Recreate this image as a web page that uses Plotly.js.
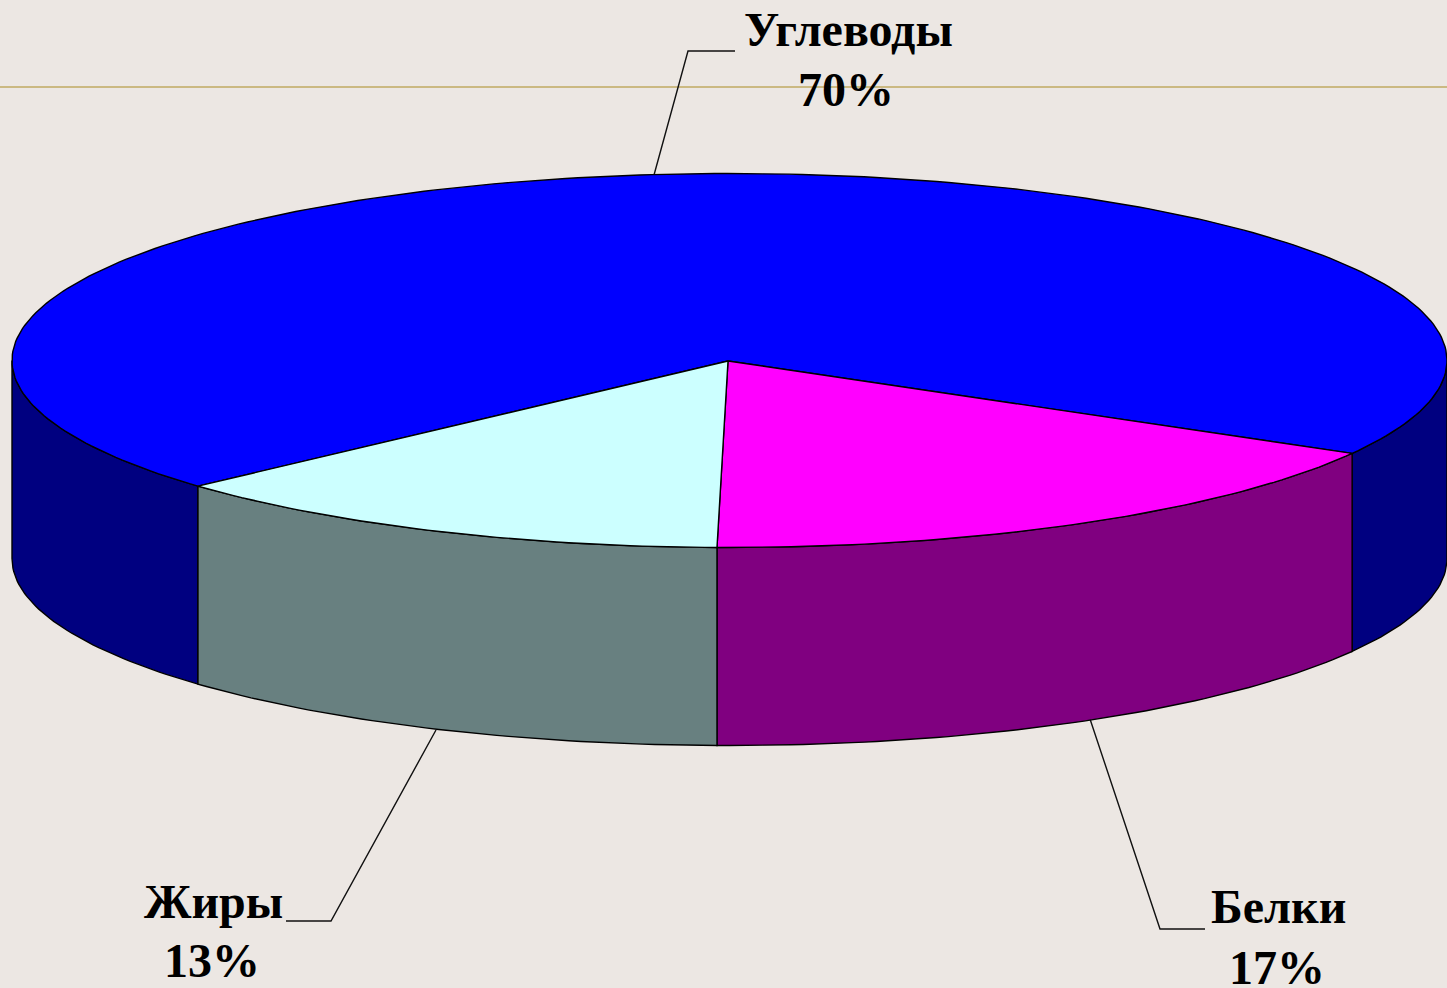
<!DOCTYPE html>
<html>
<head>
<meta charset="utf-8">
<script src="https://cdn.plot.ly/plotly-3.0.1.min.js"></script>
<style>html,body{margin:0;padding:0;background:#ece7e3;overflow:hidden}</style>
</head>
<body>
<div id="chart" style="width:1447px;height:988px"></div>
<script>
var categories = ['Углеводы', 'Белки', 'Жиры'];
var shares = [70, 17, 13];
var topColors = ['#0000ff', '#ff00ff', '#ccffff'];
var wallColors = ['#000080', '#800080', '#688080'];

var cx = 729.5, cy = 360.5, rx = 717.5, ry = 187, depth = 198;
var apex = [728, 361];
var firstSliceStart = 137.8;   // degrees, clockwise on screen

function px(t) { return cx + rx * Math.cos(t * Math.PI / 180); }
function py(t, dy) { return cy + ry * Math.sin(t * Math.PI / 180) + (dy || 0); }
function arc(a, b, dy) {
  var n = Math.max(2, Math.ceil(Math.abs(b - a))), xs = [], ys = [];
  for (var i = 0; i <= n; i++) {
    var t = a + (b - a) * i / n;
    xs.push(px(t)); ys.push(py(t, dy));
  }
  return { x: xs, y: ys };
}
var outline = { color: '#000000', width: 1.4 };
function poly(x, y, color) {
  return { x: x, y: y, type: 'scatter', mode: 'lines', fill: 'toself', fillcolor: color,
           line: outline, hoverinfo: 'skip', showlegend: false };
}
function wall(a, b, color) {
  var t = arc(a, b, 0), u = arc(b, a, depth);
  return poly(t.x.concat(u.x, [t.x[0]]), t.y.concat(u.y, [t.y[0]]), color);
}

var walls = [], tops = [], start = firstSliceStart;
shares.forEach(function (s, i) {
  var end = start + s * 3.6;
  // front-facing wall pieces: screen angles 0..180 and 360..540
  [[0, 180], [360, 540]].forEach(function (r) {
    var a = Math.max(start, r[0]), b = Math.min(end, r[1]);
    if (b > a) walls.push(wall(a, b, wallColors[i]));
  });
  var e = arc(start, end, 0);
  tops.push(poly([apex[0]].concat(e.x, [apex[0]]), [apex[1]].concat(e.y, [apex[1]]), topColors[i]));
  start = end;
});

function leader(x, y) {
  return { x: x, y: y, type: 'scatter', mode: 'lines', line: { color: '#111111', width: 1.4 },
           hoverinfo: 'skip', showlegend: false };
}
var leaders = [
  leader([654, 688, 735], [175, 51, 51]),
  leader([1090, 1160, 1205], [719, 929, 929]),
  leader([436, 331, 286], [730, 921, 921])
];

var nameX = [848.5, 1278, 213], nameY = [29, 906, 901];
var pctX = [846, 1277, 212], pctY = [89, 967, 960];
var labelFont = { family: 'Liberation Serif, Times New Roman, serif', size: 48, color: '#000000' };
function label(x, y, text) {
  return { x: x, y: y, xref: 'x', yref: 'y', xanchor: 'center', yanchor: 'middle',
           text: '<b>' + text + '</b>', showarrow: false, align: 'center', font: labelFont };
}
var annotations = [];
categories.forEach(function (c, i) {
  annotations.push(label(nameX[i], nameY[i], c));
  annotations.push(label(pctX[i], pctY[i], shares[i] + '%'));
});

Plotly.newPlot('chart', leaders.concat(walls, tops), {
  width: 1447, height: 988,
  margin: { l: 0, r: 0, t: 0, b: 0 },
  paper_bgcolor: '#ece7e3', plot_bgcolor: '#ece7e3',
  showlegend: false,
  xaxis: { range: [0, 1447], visible: false, fixedrange: true },
  yaxis: { range: [988, 0], visible: false, fixedrange: true },
  shapes: [{ type: 'line', xref: 'x', yref: 'y', x0: 0, x1: 1447, y0: 87, y1: 87,
             line: { color: '#cbb982', width: 2 }, layer: 'below' }],
  annotations: annotations
}, { displayModeBar: false, staticPlot: true });
</script>
</body>
</html>
